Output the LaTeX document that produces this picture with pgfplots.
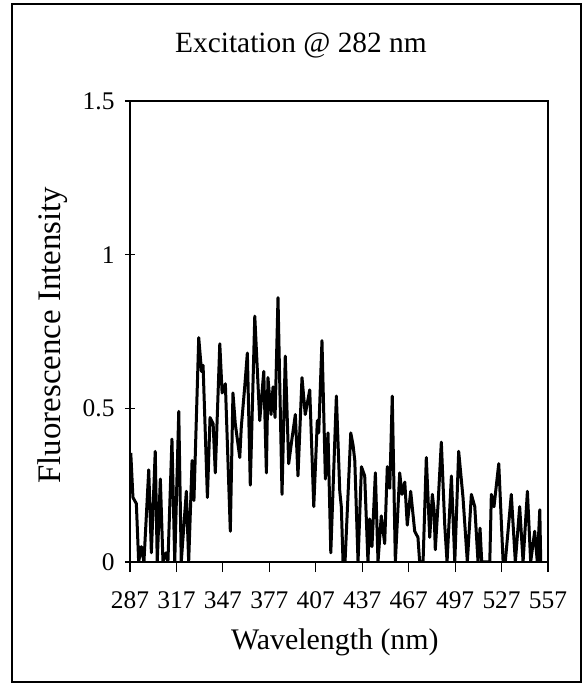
\documentclass[border=0pt]{standalone}
\usepackage{fontspec}
\setmainfont{Liberation Serif}
\usepackage{pgfplots}
\pgfplotsset{compat=1.18}

\begin{document}
\begin{tikzpicture}
\useasboundingbox (0,0) rectangle (584bp,685bp);
\draw[line width=1.2bp] (12bp,3bp) rectangle (581bp,681bp);
\begin{axis}[
  at={(130bp,123bp)}, anchor=south west,
  width=418bp, height=461bp, scale only axis,
  xmin=287, xmax=557, ymin=0, ymax=1.5,
  xtick={287,317,...,557},
  ytick={0,0.5,1,1.5},
  yticklabels={0,0.5,1,1.5},
  tickpos=left,
  xtick align=outside, ytick align=center,
  major tick length=10bp,
  every tick/.style={black, line width=1.2bp},
  axis line style={line width=2.5bp},
  /pgf/number format/assume math mode=true,
  /pgf/number format/1000 sep=,
  tick label style={font=\fontsize{25.5}{29}\selectfont},
  xticklabel style={yshift=-16bp},
  yticklabel style={xshift=-7bp},
  label style={font=\fontsize{30}{34}\selectfont},
  title={Excitation @ 282 nm},
  title style={font=\fontsize{29.5}{33}\selectfont, at={(axis description cs:0.409,1.107)}, anchor=center},
  xlabel={Wavelength (nm)},
  xlabel style={at={(axis description cs:0.49,-0.175)}, anchor=center},
  ylabel={Fluorescence Intensity},
  ylabel style={font=\fontsize{33}{36}\selectfont, at={(axis description cs:-0.185,0.492)}, anchor=center},
]
\addplot[black, line width=3bp, line join=round] coordinates {
(287.5,0.355) (288.9,0.21) (291.1,0.19) (292.6,0.0) (294.3,0.05) (296.0,0.0)
(299.1,0.30) (300.8,0.03) (303.3,0.36) (304.6,0.0) (306.6,0.27) (308.3,0.0)
(310.3,0.03) (311.5,0.0) (314.1,0.40) (315.9,0.0) (318.5,0.49) (320.1,0.0)
(323.4,0.23) (324.9,0.0) (327.1,0.33) (328.3,0.20) (331.4,0.73) (333.2,0.62)
(334.2,0.64) (337.0,0.21) (338.7,0.47) (340.7,0.45) (342.1,0.29) (345.0,0.71)
(346.5,0.55) (348.6,0.58) (351.8,0.10) (353.5,0.55) (355.0,0.45) (357.9,0.34)
(358.9,0.44) (361.1,0.57) (362.8,0.68) (364.7,0.25) (367.6,0.80) (370.8,0.46)
(373.4,0.62) (375.1,0.29) (376.1,0.60) (378.1,0.48) (379.4,0.57) (380.7,0.47)
(382.6,0.86) (385.2,0.22) (387.3,0.67) (389.5,0.32) (391.6,0.40) (393.8,0.48)
(395.5,0.28) (398.1,0.60) (400.2,0.48) (403.1,0.56) (405.7,0.18) (408.0,0.46)
(408.9,0.42) (411.0,0.72) (413.2,0.27) (414.9,0.42) (416.7,0.03) (420.3,0.54)
(422.5,0.23) (423.5,0.18) (424.6,0.0) (425.9,0.0) (429.6,0.42) (431.1,0.38)
(432.2,0.33) (434.3,0.0) (436.5,0.31) (438.6,0.28) (440.7,0.0) (441.8,0.14)
(443.3,0.05) (445.5,0.29) (447.2,0.0) (449.3,0.15) (451.5,0.06) (453.2,0.31)
(454.8,0.24) (456.4,0.54) (458.4,0.0) (461.2,0.29) (462.7,0.22) (464.5,0.26)
(466.1,0.12) (468.3,0.23) (470.9,0.10) (473.0,0.08) (474.1,0.0) (476.3,0.0)
(478.4,0.34) (480.6,0.08) (482.3,0.22) (483.4,0.17) (484.2,0.04) (486.0,0.19)
(488.1,0.39) (490.3,0.12) (491.8,0.0) (494.6,0.28) (496.8,0.0) (499.3,0.36)
(502.1,0.21) (504.9,0.0) (507.5,0.22) (509.7,0.18) (511.8,0.0) (513.1,0.11)
(514.2,0.0) (519.4,0.0) (520.4,0.22) (522.1,0.18) (525.2,0.32) (528.0,0.0)
(529.4,0.0) (533.3,0.22) (535.9,0.0) (538.7,0.18) (540.9,0.0) (543.7,0.23)
(545.8,0.0) (548.4,0.10) (550.1,0.0) (551.7,0.17) (552.3,0.0)
};
\end{axis}
\end{tikzpicture}
\end{document}
